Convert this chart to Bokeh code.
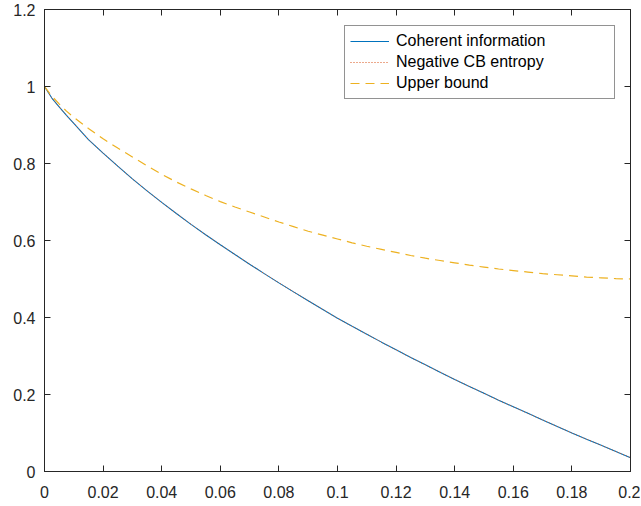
from bokeh.plotting import figure
from bokeh.models import (Range1d, FixedTicker, LinearAxis, CustomJSTickFormatter,
                          Legend, LegendItem)
from bokeh.embed import file_html
from bokeh.resources import INLINE

# ---- data ----
p_vals = [0.0, 0.0025, 0.005, 0.0075, 0.01, 0.015, 0.02, 0.025, 0.03, 0.035,
          0.04, 0.045, 0.05, 0.055, 0.06, 0.065, 0.07, 0.075, 0.08, 0.085,
          0.09, 0.095, 0.1, 0.105, 0.11, 0.115, 0.12, 0.125, 0.13, 0.135,
          0.14, 0.145, 0.15, 0.155, 0.16, 0.165, 0.17, 0.175, 0.18, 0.185,
          0.19, 0.195, 0.2]
coherent = [1.000, 0.970, 0.947, 0.925, 0.904, 0.862, 0.827, 0.793, 0.760, 0.729,
            0.699, 0.670, 0.642, 0.615, 0.589, 0.5635, 0.5385, 0.514, 0.490, 0.4665,
            0.4435, 0.421, 0.398, 0.377, 0.3565, 0.336, 0.316, 0.296, 0.277, 0.258,
            0.239, 0.221, 0.203, 0.185, 0.168, 0.151, 0.134, 0.117, 0.100, 0.084,
            0.068, 0.052, 0.036]
neg_cb = [1.000, 0.970, 0.947, 0.925, 0.904, 0.862, 0.827, 0.793, 0.760, 0.729,
          0.699, 0.670, 0.642, 0.615, 0.589, 0.5635, 0.5385, 0.514, 0.490, 0.4665,
          0.4435, 0.421, 0.398, 0.377, 0.3565, 0.336, 0.316, 0.296, 0.277, 0.258,
          0.239, 0.221, 0.203, 0.185, 0.168, 0.151, 0.134, 0.117, 0.100, 0.084,
          0.068, 0.052, 0.036]
upper = [1.000, 0.975, 0.955, 0.936, 0.920, 0.891, 0.864, 0.840, 0.817, 0.794,
         0.772, 0.752, 0.734, 0.717, 0.701, 0.687, 0.674, 0.661, 0.648, 0.636,
         0.624, 0.614, 0.604, 0.594, 0.585, 0.577, 0.569, 0.561, 0.554, 0.548,
         0.542, 0.536, 0.531, 0.526, 0.522, 0.518, 0.514, 0.511, 0.508, 0.505,
         0.503, 0.501, 0.500]
x_ticks = [0, 0.02, 0.04, 0.06, 0.08, 0.1, 0.12, 0.14, 0.16, 0.18, 0.2]
y_ticks = [0, 0.2, 0.4, 0.6, 0.8, 1.0, 1.2]
series_names = ["Coherent information", "Negative CB entropy", "Upper bound"]

FONT = "Liberation Sans"
AX = "#262626"

p = figure(width=640, height=504, output_backend="svg", toolbar_location=None,
           x_range=Range1d(0, 0.2), y_range=Range1d(0, 1.2),
           x_axis_type=None, y_axis_type=None,
           min_border_left=44, min_border_right=10, min_border_top=9,
           min_border_bottom=33)
p.outline_line_color = AX
p.outline_line_width = 1
p.background_fill_color = "white"
p.border_fill_color = "white"

fmt = CustomJSTickFormatter(code="return String(parseFloat(tick.toFixed(6)));")
blank = CustomJSTickFormatter(code="return '';")


def make_axis(ticks, formatter, labelled, standoff=9):
    ax = LinearAxis(ticker=FixedTicker(ticks=ticks), formatter=formatter)
    ax.axis_line_color = AX
    ax.axis_line_width = 1
    ax.major_tick_line_color = AX
    ax.major_tick_line_width = 1
    ax.major_tick_in = 6
    ax.major_tick_out = 0
    ax.minor_tick_line_color = None
    if labelled:
        ax.major_label_text_font = FONT
        ax.major_label_text_font_size = "16px"
        ax.major_label_text_color = AX
        ax.major_label_standoff = standoff
    else:
        ax.major_label_text_font_size = "0px"
        ax.major_label_standoff = 0
    return ax


p.add_layout(make_axis(x_ticks, fmt, True, 14), "below")
p.add_layout(make_axis(y_ticks, fmt, True, 9), "left")
p.add_layout(make_axis(x_ticks, blank, False), "above")
p.add_layout(make_axis(y_ticks, blank, False), "right")

r1 = p.line(p_vals, coherent, line_color="#0072BD", line_width=1.1)
r2 = p.line(p_vals, neg_cb, line_color="#D95319", line_width=1.0, line_dash="1 2")
r3 = p.line(p_vals, upper, line_color="#EDB120", line_width=1.2, line_dash="9 6")

legend = Legend(items=[LegendItem(label=series_names[0], renderers=[r1]),
                       LegendItem(label=series_names[1], renderers=[r2]),
                       LegendItem(label=series_names[2], renderers=[r3])],
                location=(300, 372))
legend.label_text_font = FONT
legend.label_text_font_size = "16px"
legend.label_text_color = "black"
legend.label_width = 213
legend.label_height = 20
legend.glyph_width = 39
legend.glyph_height = 20
legend.label_standoff = 7
legend.padding = 5
legend.spacing = 1
legend.margin = 0
legend.border_line_color = AX
legend.border_line_width = 1
legend.background_fill_color = "white"
legend.background_fill_alpha = 1
p.add_layout(legend)

open("out.html", "w").write(file_html(p, INLINE))
